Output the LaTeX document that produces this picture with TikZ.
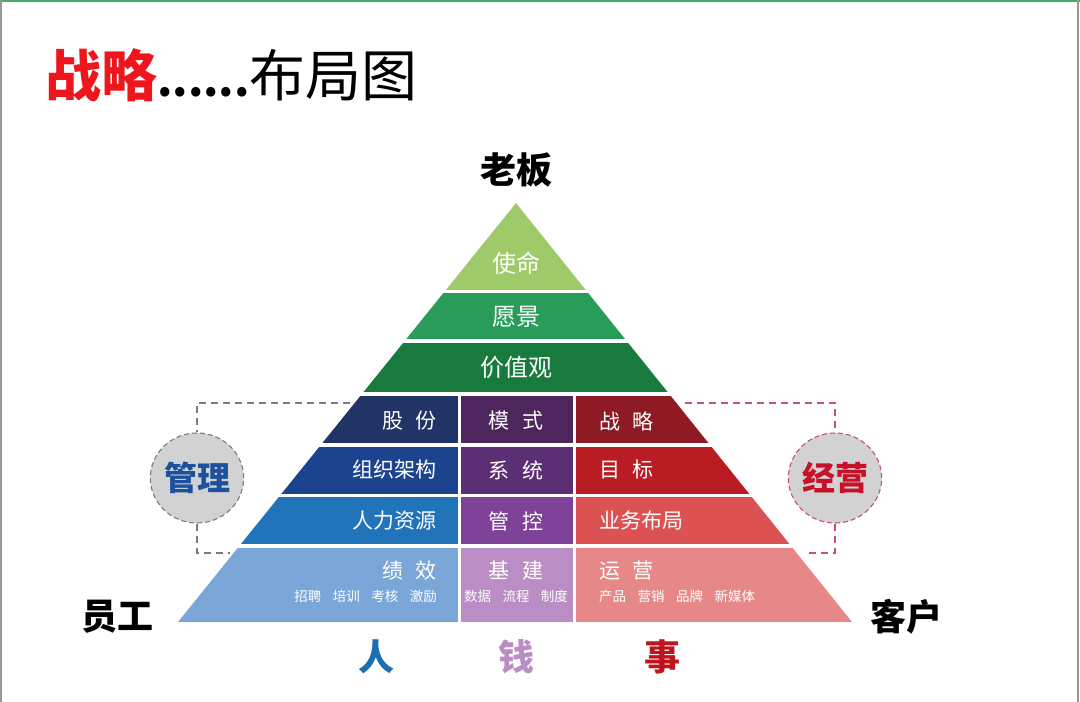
\documentclass[tikz,border=0pt]{standalone}
\usepackage{fontspec}
\setmainfont{Noto Sans CJK SC}
\usepackage{tikz}
\usetikzlibrary{positioning, shapes.geometric}
\definecolor{titleRed}{RGB}{238,22,28}
\definecolor{frameGray}{RGB}{150,150,150}
\definecolor{frameGreen}{RGB}{70,170,110}
\definecolor{topGreen}{RGB}{158,202,105}
\definecolor{midGreen}{RGB}{40,156,88}
\definecolor{deepGreen}{RGB}{24,122,60}
\definecolor{leftA}{RGB}{32,52,102}
\definecolor{leftB}{RGB}{28,68,142}
\definecolor{leftC}{RGB}{34,116,186}
\definecolor{leftD}{RGB}{122,167,216}
\definecolor{midA}{RGB}{76,38,92}
\definecolor{midB}{RGB}{92,46,116}
\definecolor{midC}{RGB}{126,66,152}
\definecolor{midD}{RGB}{186,142,196}
\definecolor{rightA}{RGB}{142,26,36}
\definecolor{rightB}{RGB}{186,28,36}
\definecolor{rightC}{RGB}{220,82,82}
\definecolor{rightD}{RGB}{230,136,136}
\definecolor{ringGray}{RGB}{210,210,210}
\definecolor{dashGray}{RGB}{120,122,135}
\definecolor{dashRed}{RGB}{196,84,104}
\definecolor{manageBlue}{RGB}{30,80,160}
\definecolor{operRed}{RGB}{200,16,40}
\definecolor{renBlue}{RGB}{30,110,180}
\definecolor{qianPurple}{RGB}{186,142,196}
\definecolor{shiRed}{RGB}{190,20,30}
\newcommand{\cgap}{\hspace{0.6em}}
\newcommand{\wsp}{\hspace{0.85em}}

\begin{document}
\begin{tikzpicture}[x=1pt, y=-1pt,
    band/.style={white, inner sep=0pt, font=\fontsize{24}{28}\selectfont},
    cell/.style={white, inner sep=0pt, font=\fontsize{21}{25}\selectfont},
    subcell/.style={white, inner sep=0pt, font=\fontsize{13.5}{16}\selectfont},
    side/.style={inner sep=0pt, font=\fontsize{36}{40}\selectfont\bfseries},
    ring/.style={ellipse, draw, dash pattern=on 5pt off 3pt, fill=ringGray, line width=1.1pt,
                 minimum width=77pt, minimum height=90pt, inner sep=0pt,
                 font=\fontsize{33}{37}\selectfont\bfseries},
    bracket/.style={dash pattern=on 7pt off 5pt, line width=1.2pt}
  ]
    \useasboundingbox (0,0) rectangle (1080,702);
    \draw[frameGreen, line width=1.5pt] (0,0.75) -- (1080,0.75);
    \draw[frameGray, line width=1.5pt] (0.75,0) -- (0.75,702);
    \draw[frameGray, line width=2pt] (1078,0) -- (1078,702);

    \node[anchor=west, inner sep=0pt, font=\fontsize{56}{60}\selectfont] (title) at (45,75)
      {{\color{titleRed}\bfseries 战略}{\fontsize{44}{48}\selectfont\bfseries ......}布局图};

    % pyramid
    \begin{scope}
      \clip (516,203) -- (852,622) -- (178,622) -- cycle;
      \fill[topGreen] (150,200) rectangle (880,290);
      \fill[midGreen] (150,293) rectangle (880,339);
      \fill[deepGreen] (150,343) rectangle (880,392);
      \foreach \ya/\yb/\cl/\cm/\cr in {396/443/leftA/midA/rightA,
                                      447/494/leftB/midB/rightB,
                                      497/544/leftC/midC/rightC,
                                      548/622/leftD/midD/rightD} {
        \fill[\cl] (150,\ya) rectangle (458,\yb);
        \fill[\cm] (461,\ya) rectangle (573,\yb);
        \fill[\cr] (576,\ya) rectangle (880,\yb);
      }
    \end{scope}

    \node[band] (shiming) at (516,263) {使命};
    \node[band] (yuanjing) at (516,317) {愿景};
    \node[band] (jiazhi) at (516,367) {价值观};

    \node[cell, anchor=east] (gufen) at (437,421) {股\cgap 份};
    \node[cell] (moshi) at (516,421) {模\cgap 式};
    \node[cell, anchor=west] (zhanlue) at (599,421) {战\cgap 略};
    \node[cell, anchor=east] (zuzhi) at (437,470) {组织架构};
    \node[cell] (xitong) at (516,470) {系\cgap 统};
    \node[cell, anchor=west] (mubiao) at (599,470) {目\cgap 标};
    \node[cell, anchor=east] (renli) at (437,521) {人力资源};
    \node[cell] (guankong) at (516,521) {管\cgap 控};
    \node[cell, anchor=west] (yewu) at (599,521) {业务布局};
    \node[cell, anchor=east] (jixiao) at (437,571) {绩\cgap 效};
    \node[cell] (jijian) at (516,571) {基\cgap 建};
    \node[cell, anchor=west] (yunying) at (599,571) {运\cgap 营};
    \node[subcell, anchor=east] (jixiaoSub) at (437,596) {招聘\wsp 培训\wsp 考核\wsp 激励};
    \node[subcell] (jijianSub) at (516,596) {数据\wsp 流程\wsp 制度};
    \node[subcell, anchor=west] (yunyingSub) at (599,596) {产品\wsp 营销\wsp 品牌\wsp 新媒体};

    \node[side] (laoban) at (516,170) {老板};
    \node[side] (yuangong) at (117,617) {员工};
    \node[side] (kehu) at (906,617) {客户};
    \node[side, renBlue] (ren) at (376,657) {人};
    \node[side, qianPurple] (qian) at (516,657) {钱};
    \node[side, shiRed] (shi) at (662,657) {事};

    % side rings and brackets
    \node[ring, draw=dashGray, text=manageBlue] (guanli) at (197,478) {管理};
    \node[ring, draw=dashRed, text=operRed] (jingying) at (835,478) {经营};
    \coordinate (glTop) at (350,403);
    \coordinate (glBot) at (230,553);
    \coordinate (jyTop) at (685,403);
    \coordinate (jyBot) at (805,553);
    \draw[bracket, dashGray] (glTop) -| (guanli.north);
    \draw[bracket, dashGray] (guanli.south) |- (glBot);
    \draw[bracket, dashRed] (jyTop) -| (jingying.north);
    \draw[bracket, dashRed] (jingying.south) |- (jyBot);
  \end{tikzpicture}
\end{document}
